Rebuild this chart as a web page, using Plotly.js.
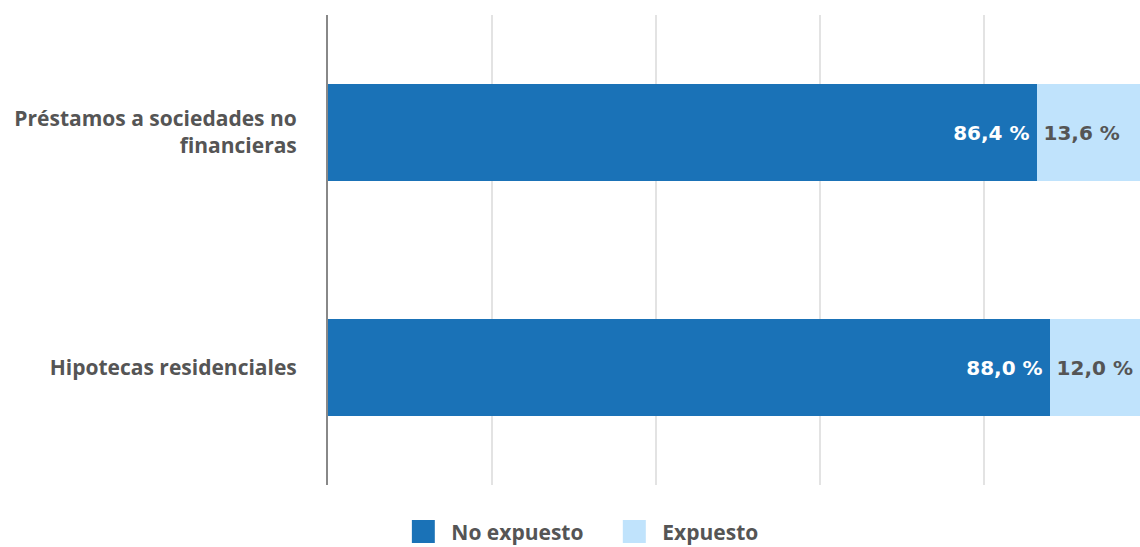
<!DOCTYPE html>
<html>
<head>
<meta charset="utf-8">
<script src="https://cdn.plot.ly/plotly-3.0.1.min.js"></script>
<style>html,body{margin:0;padding:0;background:#fff;}#chart{width:1140px;height:547px;}</style>
</head>
<body>
<div id="chart"></div>
<script>
const categories = ["Préstamos a sociedades no<br>financieras", "Hipotecas residenciales"];
const seriesNames = ["No expuesto", "Expuesto"];
const noExpuesto = [86.4, 88.0];
const expuesto = [13.6, 12.0];
const colors = ["#1a72b7", "#c0e3fc"];

const traces = [
  {
    type: "bar", orientation: "h", name: seriesNames[0],
    y: categories, x: noExpuesto,
    marker: {color: colors[0]},
    texttemplate: "%{x:.1f} %\u2009", textposition: "inside", insidetextanchor: "end",
    textfont: {family: "DejaVu Sans", size: 20, color: "#ffffff", weight: "bold"},
    hoverinfo: "skip"
  },
  {
    type: "bar", orientation: "h", name: seriesNames[1],
    y: categories, x: expuesto,
    marker: {color: colors[1]},
    texttemplate: "\u2009%{x:.1f} %", textposition: "inside", insidetextanchor: "start",
    textfont: {family: "DejaVu Sans", size: 20, color: "#555555", weight: "bold"},
    hoverinfo: "skip"
  }
];

const labelFont = {family: "Open Sans", size: 21, color: "#555555", weight: "bold"};

const layout = {
  width: 1140, height: 547,
  barmode: "stack",
  bargap: 0.59,
  separators: ", ",
  paper_bgcolor: "#ffffff", plot_bgcolor: "#ffffff",
  margin: {l: 328, r: 0, t: 15, b: 62, pad: 0},
  font: {family: "Open Sans", color: "#555555"},
  xaxis: {
    range: [0, 99.02], showticklabels: false, ticks: "",
    showgrid: true, gridcolor: "#e3e3e3", gridwidth: 2,
    dtick: 20, tick0: 0, zeroline: false, showline: false, fixedrange: true
  },
  yaxis: {
    categoryorder: "array", categoryarray: categories.slice().reverse(),
    showline: true, linecolor: "#888888", linewidth: 2,
    showgrid: false, ticks: "", ticklabelstandoff: 25,
    tickfont: labelFont,
    fixedrange: true
  },
  showlegend: true,
  legend: {
    orientation: "h", xref: "container", yref: "container",
    x: 0.3608, xanchor: "left", y: 0.0652, yanchor: "top",
    font: labelFont,
    traceorder: "normal", itemclick: false, itemdoubleclick: false,
    entrywidth: 166
  }
};

Plotly.newPlot("chart", traces, layout, {displayModeBar: false, staticPlot: true}).then(function () {
  document.querySelectorAll(".legend .legendpoints path").forEach(function (p) {
    p.setAttribute("d", "M3.5,11.5H-19.5V-11.5H3.5Z");
  });
});
</script>
</body>
</html>
